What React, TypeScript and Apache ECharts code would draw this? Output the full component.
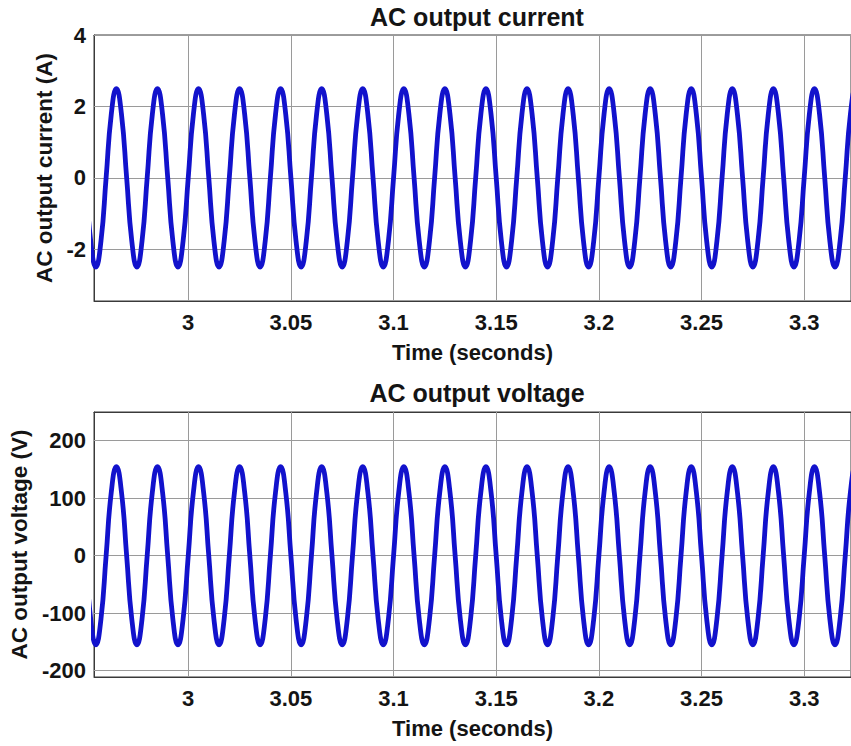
import React, { useEffect, useRef } from "react";
import * as echarts from "echarts";

const timeSeconds = [
  2.95, 2.9525, 2.955, 2.9575, 2.96, 2.9625, 2.965, 2.9675,
  2.97, 2.9725, 2.975, 2.9775, 2.98, 2.9825, 2.985, 2.9875,
  2.99, 2.9925, 2.995, 2.9975, 3.0, 3.0025, 3.005, 3.0075,
  3.01, 3.0125, 3.015, 3.0175, 3.02, 3.0225, 3.025, 3.0275,
  3.03, 3.0325, 3.035, 3.0375, 3.04, 3.0425, 3.045, 3.0475,
  3.05, 3.0525, 3.055, 3.0575, 3.06, 3.0625, 3.065, 3.0675,
  3.07, 3.0725, 3.075, 3.0775, 3.08, 3.0825, 3.085, 3.0875,
  3.09, 3.0925, 3.095, 3.0975, 3.1, 3.1025, 3.105, 3.1075,
  3.11, 3.1125, 3.115, 3.1175, 3.12, 3.1225, 3.125, 3.1275,
  3.13, 3.1325, 3.135, 3.1375, 3.14, 3.1425, 3.145, 3.1475,
  3.15, 3.1525, 3.155, 3.1575, 3.16, 3.1625, 3.165, 3.1675,
  3.17, 3.1725, 3.175, 3.1775, 3.18, 3.1825, 3.185, 3.1875,
  3.19, 3.1925, 3.195, 3.1975, 3.2, 3.2025, 3.205, 3.2075,
  3.21, 3.2125, 3.215, 3.2175, 3.22, 3.2225, 3.225, 3.2275,
  3.23, 3.2325, 3.235, 3.2375, 3.24, 3.2425, 3.245, 3.2475,
  3.25, 3.2525, 3.255, 3.2575, 3.26, 3.2625, 3.265, 3.2675,
  3.27, 3.2725, 3.275, 3.2775, 3.28, 3.2825, 3.285, 3.2875,
  3.29, 3.2925, 3.295, 3.2975, 3.3, 3.3025, 3.305, 3.3075,
  3.31, 3.3125, 3.315, 3.3175, 3.32, 3.3225, 3.325, 3.3275,
];

const currentA = [
  0, -1.77, -2.5, -1.77, 0, 1.77, 2.5, 1.77,
  0, -1.77, -2.5, -1.77, 0, 1.77, 2.5, 1.77,
  0, -1.77, -2.5, -1.77, 0, 1.77, 2.5, 1.77,
  0, -1.77, -2.5, -1.77, 0, 1.77, 2.5, 1.77,
  0, -1.77, -2.5, -1.77, 0, 1.77, 2.5, 1.77,
  0, -1.77, -2.5, -1.77, 0, 1.77, 2.5, 1.77,
  0, -1.77, -2.5, -1.77, 0, 1.77, 2.5, 1.77,
  0, -1.77, -2.5, -1.77, 0, 1.77, 2.5, 1.77,
  0, -1.77, -2.5, -1.77, 0, 1.77, 2.5, 1.77,
  0, -1.77, -2.5, -1.77, 0, 1.77, 2.5, 1.77,
  0, -1.77, -2.5, -1.77, 0, 1.77, 2.5, 1.77,
  0, -1.77, -2.5, -1.77, 0, 1.77, 2.5, 1.77,
  0, -1.77, -2.5, -1.77, 0, 1.77, 2.5, 1.77,
  0, -1.77, -2.5, -1.77, 0, 1.77, 2.5, 1.77,
  0, -1.77, -2.5, -1.77, 0, 1.77, 2.5, 1.77,
  0, -1.77, -2.5, -1.77, 0, 1.77, 2.5, 1.77,
  0, -1.77, -2.5, -1.77, 0, 1.77, 2.5, 1.77,
  0, -1.77, -2.5, -1.77, 0, 1.77, 2.5, 1.77,
  0, -1.77, -2.5, -1.77, 0, 1.77, 2.5, 1.77,
];

const voltageV = [
  0, -110, -155, -110, 0, 110, 155, 110,
  0, -110, -155, -110, 0, 110, 155, 110,
  0, -110, -155, -110, 0, 110, 155, 110,
  0, -110, -155, -110, 0, 110, 155, 110,
  0, -110, -155, -110, 0, 110, 155, 110,
  0, -110, -155, -110, 0, 110, 155, 110,
  0, -110, -155, -110, 0, 110, 155, 110,
  0, -110, -155, -110, 0, 110, 155, 110,
  0, -110, -155, -110, 0, 110, 155, 110,
  0, -110, -155, -110, 0, 110, 155, 110,
  0, -110, -155, -110, 0, 110, 155, 110,
  0, -110, -155, -110, 0, 110, 155, 110,
  0, -110, -155, -110, 0, 110, 155, 110,
  0, -110, -155, -110, 0, 110, 155, 110,
  0, -110, -155, -110, 0, 110, 155, 110,
  0, -110, -155, -110, 0, 110, 155, 110,
  0, -110, -155, -110, 0, 110, 155, 110,
  0, -110, -155, -110, 0, 110, 155, 110,
  0, -110, -155, -110, 0, 110, 155, 110,
];

const xTicks = [3, 3.05, 3.1, 3.15, 3.2, 3.25, 3.3];
const currentTicks = [-2, 0, 2, 4];
const voltageTicks = [-200, -100, 0, 100, 200];

const FONT = "Liberation Sans, Arial, Helvetica, sans-serif";
const TXT = "#141414";
const FRAME = "#3a3a3a";
const GRIDC = "#9a9a9a";
const BLUE = "#1212cc";

export default function App() {
  const ref = useRef<HTMLDivElement>(null);

  useEffect(() => {
    if (!ref.current) return;
    const chart = echarts.init(ref.current, undefined, { renderer: "svg" });

    const xMin = 2.9541;
    const xMax = 3.3228;

    const makeX = (gridIndex: number) => [
      {
        type: "value",
        gridIndex,
        min: xMin,
        max: xMax,
        position: "bottom",
        name: "Time (seconds)",
        nameLocation: "middle",
        nameGap: 40,
        nameTextStyle: { fontFamily: FONT, fontSize: 22, fontWeight: "bold", color: TXT },
        axisLine: { show: true, onZero: false, lineStyle: { color: FRAME, width: 1 } },
        axisTick: { show: true, inside: true, length: 6, customValues: xTicks, lineStyle: { color: FRAME } },
        axisLabel: { customValues: xTicks, margin: 10, fontFamily: FONT, fontSize: 22, fontWeight: "bold", color: TXT },
        splitLine: { show: false },
      },
      {
        type: "value",
        gridIndex,
        min: xMin,
        max: xMax,
        position: "top",
        axisLine: { show: true, onZero: false, lineStyle: { color: FRAME, width: 1 } },
        axisTick: { show: true, inside: true, length: 6, customValues: xTicks, lineStyle: { color: FRAME } },
        axisLabel: { show: false },
        splitLine: { show: false },
      },
    ];

    const makeY = (gridIndex: number, min: number, max: number, ticks: number[], name: string, nameGap: number) => ({
      type: "value",
      gridIndex,
      min,
      max,
      name,
      nameLocation: "middle",
      nameGap,
      nameTextStyle: { fontFamily: FONT, fontSize: 22.5, fontWeight: "bold", color: TXT },
      axisLine: { show: true, onZero: false, lineStyle: { color: FRAME, width: 1 } },
      axisTick: { show: true, inside: true, length: 6, customValues: ticks, lineStyle: { color: FRAME } },
      axisLabel: { customValues: ticks, margin: 8, fontFamily: FONT, fontSize: 22, fontWeight: "bold", color: TXT },
      splitLine: { show: false },
    });

    const toPairs = (ys: number[]) => timeSeconds.map((t, i) => [t, ys[i]]);

    const gridMarks = (yTicks: number[]) => ({
      silent: true,
      symbol: ["none", "none"],
      z: 1,
      label: { show: false },
      emphasis: { disabled: true },
      lineStyle: { color: GRIDC, width: 1, type: "solid" },
      data: [
        ...xTicks.map((v) => ({ xAxis: v })),
        ...yTicks.map((v) => ({ yAxis: v })),
      ],
    });

    chart.setOption({
      animation: false,
      backgroundColor: "#ffffff",
      title: [
        {
          text: "AC output current",
          left: 477,
          top: 4,
          padding: 0,
          textAlign: "center",
          textStyle: { fontFamily: FONT, fontSize: 25, fontWeight: "bold", color: TXT },
        },
        {
          text: "AC output voltage",
          left: 477,
          top: 380,
          padding: 0,
          textAlign: "center",
          textStyle: { fontFamily: FONT, fontSize: 25, fontWeight: "bold", color: TXT },
        },
      ],
      grid: [
        { left: 94, top: 35, width: 766, height: 266, show: true, borderColor: FRAME, borderWidth: 1, backgroundColor: "#ffffff" },
        { left: 94, top: 412, width: 766, height: 265, show: true, borderColor: FRAME, borderWidth: 1, backgroundColor: "#ffffff" },
      ],
      xAxis: [...makeX(0), ...makeX(1)],
      yAxis: [
        makeY(0, -3.45, 4, currentTicks, "AC output current (A)", 35),
        makeY(1, -211, 250, voltageTicks, "AC output voltage (V)", 32),
      ],
      series: [
        {
          type: "line",
          xAxisIndex: 0,
          yAxisIndex: 0,
          z: 3,
          data: toPairs(currentA),
          smooth: 0.5,
          showSymbol: false,
          clip: true,
          lineStyle: { color: BLUE, width: 4.8 },
          markLine: gridMarks(currentTicks),
        },
        {
          type: "line",
          xAxisIndex: 2,
          yAxisIndex: 1,
          z: 3,
          data: toPairs(voltageV),
          smooth: 0.5,
          showSymbol: false,
          clip: true,
          lineStyle: { color: BLUE, width: 4.8 },
          markLine: gridMarks(voltageTicks),
        },
      ],
    });

    return () => chart.dispose();
  }, []);

  return (
    <div
      ref={ref}
      style={{ position: "absolute", left: 0, top: 0, width: 851, height: 746, background: "#fff" }}
    />
  );
}
